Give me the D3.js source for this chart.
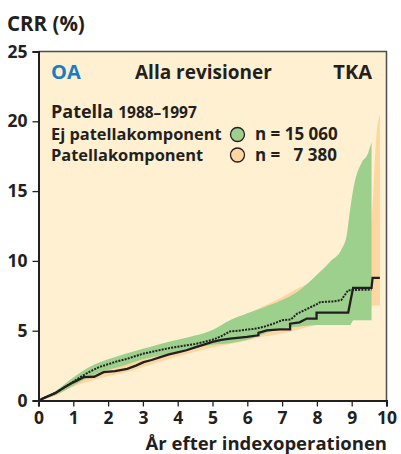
<!DOCTYPE html>
<html>
<head>
<meta charset="utf-8">
<script src="https://cdn.jsdelivr.net/npm/d3@7"></script>
<style>
  body { margin: 0; background: #fff; }
  text { font-family: "Open Sans", sans-serif; font-weight: 700; fill: #231f20; }
</style>
</head>
<body>
<script>
// years, lower CI, upper CI
let bandOrange = [
  [0, 0, 0], [0.5, 0.35, 0.7], [1.0, 1.0, 1.55], [1.5, 1.4, 2.1], [2.0, 1.75, 2.5],
  [2.5, 2.0, 2.8], [3.0, 2.4, 3.25], [3.5, 2.8, 3.6], [4.0, 3.15, 4.0], [4.5, 3.5, 4.5],
  [5.0, 3.8, 5.0], [5.5, 4.05, 5.6], [6.0, 4.3, 6.2], [6.5, 4.6, 6.8], [7.0, 4.8, 7.4],
  [7.5, 5.1, 8.1], [8.0, 5.4, 8.6], [8.5, 5.5, 9.0], [9.0, 6.1, 10.5], [9.55, 6.5, 12.5],
  [9.6, 6.8, 14], [9.7, 6.8, 18.7], [9.81, 6.8, 20.5]
];
let bandGreen = [
  [0, 0, 0], [0.5, 0.4, 0.7], [1.0, 1.05, 1.65], [1.5, 1.75, 2.45], [2.0, 2.2, 2.95],
  [2.5, 2.55, 3.35], [3.0, 2.95, 3.7], [3.5, 3.25, 4.05], [4.0, 3.5, 4.35], [4.5, 3.75, 4.65],
  [5.0, 4.0, 5.05], [5.5, 4.1, 5.75], [6.0, 4.35, 6.25], [6.5, 4.8, 6.7], [7.0, 5.15, 7.2],
  [7.5, 5.3, 7.9], [8.0, 5.4, 9.0], [8.4, 5.4, 10.0], [8.7, 5.4, 10.8], [8.86, 5.4, 11.9],
  [8.95, 5.4, 13.6], [9.05, 5.75, 15.2], [9.3, 5.75, 17.1], [9.45, 5.75, 17.6], [9.57, 5.75, 18.5]
];
// Ej patellakomponent (dotted)
let lineGreen = [
  [0, 0], [0.25, 0.3], [0.5, 0.55], [0.75, 0.95], [1.0, 1.35], [1.25, 1.75], [1.5, 2.1],
  [1.75, 2.4], [2.0, 2.6], [2.25, 2.8], [2.5, 2.95], [2.75, 3.15], [3.0, 3.35], [3.25, 3.48],
  [3.5, 3.62], [3.75, 3.75], [4.0, 3.85], [4.25, 3.95], [4.5, 4.05], [4.75, 4.2], [5.0, 4.35],
  [5.25, 4.6], [5.5, 4.95], [5.75, 5.0], [6.0, 5.08], [6.25, 5.15], [6.5, 5.3], [6.75, 5.5],
  [7.0, 5.75], [7.25, 5.8], [7.42, 6.2], [7.75, 6.6], [8.0, 6.9], [8.1, 7.05], [8.5, 7.1],
  [8.7, 7.2], [8.9, 7.9], [9.57, 7.95]
];
// Patellakomponent (solid)
let lineOrange = [
  [0, 0], [0.25, 0.28], [0.5, 0.55], [0.75, 0.95], [1.0, 1.3], [1.3, 1.67], [1.6, 1.7],
  [1.87, 2.03], [2.2, 2.1], [2.55, 2.27], [2.8, 2.5], [3.02, 2.75], [3.25, 2.9], [3.5, 3.11],
  [3.75, 3.3], [4.0, 3.45], [4.25, 3.6], [4.5, 3.8], [4.75, 4.0], [5.0, 4.2], [5.25, 4.35],
  [5.51, 4.43], [5.99, 4.55], [6.32, 4.67], [6.32, 4.85], [6.56, 5.03], [6.94, 5.1],
  [7.23, 5.1], [7.23, 5.5], [7.5, 5.6], [7.71, 5.87], [7.99, 5.87], [7.99, 6.3], [8.9, 6.3],
  [9.04, 8.07], [9.57, 8.07], [9.6, 8.79], [9.81, 8.79]
];
let xTicks = [0, 1, 2, 3, 4, 5, 6, 7, 8, 9, 10];
let yTicks = [0, 5, 10, 15, 20, 25];

let svg = d3.select("body").append("svg")
            .attr("width", 401)
            .attr("height", 454);

let x = d3.scaleLinear().domain([0, 10]).range([38.5, 386.5]);
let y = d3.scaleLinear().domain([0, 25]).range([400.5, 51.5]);

// plot background + frame
svg.append("rect")
   .attr("x", x(0)).attr("y", y(25))
   .attr("width", x(10) - x(0)).attr("height", y(0) - y(25))
   .attr("fill", "#fef0d1");
svg.append("path")
   .attr("d", `M${x(0)},${y(25)}H${x(10)}V${y(0)}`)
   .attr("fill", "none").attr("stroke", "#4d4d4d").attr("stroke-width", 1.5);

let area = d3.area().x(d => x(d[0])).y0(d => y(d[1])).y1(d => y(d[2])).curve(d3.curveMonotoneX);
svg.append("path").datum(bandOrange).attr("d", area).attr("fill", "#fdd6a2");
svg.append("path").datum(bandGreen).attr("d", area).attr("fill", "#9dd08c");

let line = d3.line().x(d => x(d[0])).y(d => y(d[1]));
svg.append("path").datum(lineGreen).attr("d", line)
   .attr("fill", "none").attr("stroke", "#231f20").attr("stroke-width", 2)
   .attr("stroke-dasharray", "2,1.2");
svg.append("path").datum(lineOrange).attr("d", line)
   .attr("fill", "none").attr("stroke", "#231f20").attr("stroke-width", 2.3);

// axes
let xAxis = svg.append("g").attr("transform", `translate(0,${y(0)})`)
   .call(d3.axisBottom(x).tickValues(xTicks).tickSize(6).tickPadding(5).tickFormat(d3.format("d")));
let yAxis = svg.append("g").attr("transform", `translate(${x(0)},0)`)
   .call(d3.axisLeft(y).tickValues(yTicks).tickSize(6).tickPadding(5).tickFormat(d3.format("d")));
[xAxis, yAxis].forEach(g => {
  g.select(".domain").attr("stroke", "#231f20").attr("stroke-width", 2);
  g.selectAll(".tick line").attr("stroke", "#231f20").attr("stroke-width", 1.3);
  g.selectAll(".tick text").attr("font-size", 17.5).attr("font-family", "Open Sans").attr("font-weight", 700).attr("fill", "#231f20");
});

svg.append("text").attr("x", 7).attr("y", 31).attr("font-size", 20.5).text("CRR (%)");
svg.append("text").attr("x", 387).attr("y", 450).attr("text-anchor", "end")
   .attr("font-size", 18.5).text("År efter indexoperationen");

// inner labels
svg.append("text").attr("x", 51).attr("y", 79).attr("font-size", 20)
   .style("fill", "#1b7cc2").text("OA");
svg.append("text").attr("x", 135).attr("y", 79).attr("font-size", 19).text("Alla revisioner");
svg.append("text").attr("x", 372).attr("y", 79).attr("text-anchor", "end").attr("font-size", 20).text("TKA");

let t = svg.append("text").attr("x", 51).attr("y", 118).attr("font-size", 18);
t.append("tspan").text("Patella ");
t.append("tspan").attr("font-size", 15.5).text("1988–1997");

svg.append("text").attr("x", 51).attr("y", 140).attr("font-size", 16.4).text("Ej patellakomponent");
svg.append("text").attr("x", 51).attr("y", 161).attr("font-size", 16.4).text("Patellakomponent");
svg.append("circle").attr("cx", 237.5).attr("cy", 134.5).attr("r", 7)
   .attr("fill", "#9dd08c").attr("stroke", "#231f20").attr("stroke-width", 1.3);
svg.append("circle").attr("cx", 237.5).attr("cy", 155).attr("r", 7)
   .attr("fill", "#fdd6a2").attr("stroke", "#231f20").attr("stroke-width", 1.3);
svg.append("text").attr("x", 255).attr("y", 140).attr("font-size", 17).text("n = 15 060");
svg.append("text").attr("x", 255).attr("y", 161).attr("font-size", 17)
   .attr("xml:space", "preserve").style("white-space", "pre").text("n =   7 380");
</script>
</body>
</html>
